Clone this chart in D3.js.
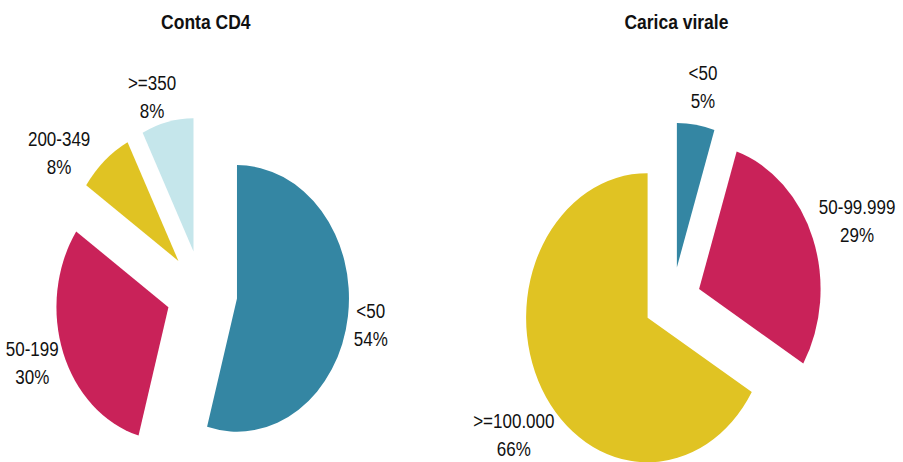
<!DOCTYPE html>
<html>
<head>
<meta charset="utf-8">
<script src="https://cdn.jsdelivr.net/npm/d3@7"></script>
<style>
  html, body { margin: 0; padding: 0; background: #fff; }
  svg { display: block; }
  text { font-family: "Liberation Sans", Arial, sans-serif; fill: #111; }
</style>
</head>
<body>
<svg id="chart" width="903" height="462"></svg>
<script>
// ---- data ----
const cd4Title = "Conta CD4";
const cd4Categories = ["<50", "50-199", "200-349", ">=350"];
const cd4Values = [54.3, 30.3, 7.9, 7.5];

const vlTitle = "Carica virale";
const vlCategories = ["<50", "50-99.999", ">=100.000"];
const vlValues = [5.0, 28.6, 66.4];

// ---- styles / layout ----
const cd4Colors = ["#3486A3", "#C92259", "#E0C323", "#C5E6EB"];
const vlColors = ["#3486A3", "#C92259", "#E0C323"];
const stretch = 1.19; // vertical stretch of the whole picture

const pies = [
  { title: cd4Title, cats: cd4Categories, vals: cd4Values, colors: cd4Colors,
    cx: 201.8, cy: 292.7, r: 112, explode: 35.5, labelR: 155,
    nudges: [[-1.5, 4], [1, -1], [-20, 17], [-8, 7]] },
  { title: vlTitle, cats: vlCategories, vals: vlValues, colors: vlColors,
    cx: 672.4, cy: 301, r: 121.5, explode: 28.5, labelR: 168,
    nudges: [[2, 7], [-8.5, -2], [23, 23]] }
];

const svg = d3.select("#chart");
const pieGen = d3.pie().sort(null).value(d => d);

pies.forEach(p => {
  const arcs = pieGen(p.vals);
  const total = d3.sum(p.vals);
  const arcGen = d3.arc().innerRadius(0).outerRadius(p.r);

  // title
  svg.append("text")
    .attr("transform", `translate(${p.cx + 4},29.3) scale(1,${stretch})`)
    .attr("text-anchor", "middle")
    .style("font-weight", "bold")
    .style("font-size", "17.5px")
    .text(p.title);

  const g = svg.append("g")
    .attr("transform", `translate(${p.cx},${p.cy}) scale(1,${stretch})`);

  g.selectAll("path")
    .data(arcs)
    .join("path")
    .attr("d", arcGen)
    .attr("fill", (d, i) => p.colors[i])
    .attr("transform", d => {
      const m = (d.startAngle + d.endAngle) / 2;
      return `translate(${p.explode * Math.sin(m)},${-p.explode * Math.cos(m)})`;
    });

  // labels
  arcs.forEach((d, i) => {
    const m = (d.startAngle + d.endAngle) / 2;
    const t = svg.append("text")
      .attr("text-anchor", "middle")
      .style("font-size", "17px");
    t.append("tspan").attr("x", 0).attr("y", -5.65).text(p.cats[i]);
    t.append("tspan").attr("x", 0).attr("y", 17.85)
      .text(Math.round(d.value / total * 100) + "%");
    const w = t.node().getBBox().width;
    const h = 48;
    const x = p.cx + p.labelR * Math.sin(m) + (w / 2) * Math.sin(m) + p.nudges[i][0];
    const y = p.cy - p.labelR * Math.cos(m) * stretch - (h / 2) * Math.cos(m) + p.nudges[i][1];
    t.attr("transform", `translate(${x},${y}) scale(1,${stretch})`);
  });
});
</script>
</body>
</html>
